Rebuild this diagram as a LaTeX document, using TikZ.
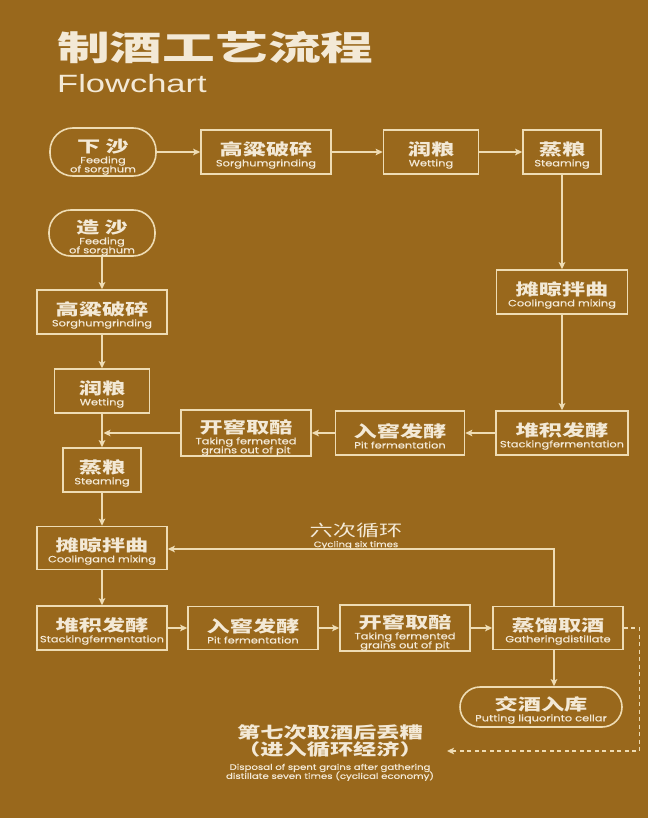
\documentclass[tikz,border=0pt]{standalone}
\usepackage{fontspec}
\usetikzlibrary{arrows.meta,calc}
\newfontfamily\cnb{Noto Sans CJK SC}[FakeStretch=1.45]
\newfontfamily\cnt{Noto Sans CJK SC}[FakeStretch=1.55]
\newfontfamily\enf{Poppins}[FakeStretch=1.27,FakeBold=0.6]
\newfontfamily\flow{Liberation Sans}[FakeStretch=1.38]
\definecolor{bg}{HTML}{99681C}
\definecolor{ln}{HTML}{EEDCB4}
\definecolor{tx}{HTML}{F3E9D6}
\newcommand\zh[1]{{\cnb\bfseries\fontsize{16}{16}\selectfont #1}}
\newcommand\en[1]{{\enf\fontsize{9}{9}\selectfont #1}}
\newcommand\bxa[2]{\rule{0pt}{20pt}\zh{#1}\\[2pt]\en{#2}}
\newcommand\bxb[3]{\rule{0pt}{23pt}\zh{#1}\\[2pt]\en{#2}\\\en{#3}}
\tikzset{
  box/.style={draw=ln, line width=1.6pt, text=tx, minimum height=44pt, inner sep=0pt,
    align=center, font={\fontsize{9}{9}\selectfont\lineskiplimit=-100pt}},
  stad/.style={box, rounded corners=22pt},
  arr/.style={draw=ln, line width=1.5pt, -{Stealth[length=7pt,width=6.5pt,inset=1.5pt]}},
  dsh/.style={arr, dash pattern=on 4pt off 3.5pt, line width=1.3pt},
  lbl/.style={text=tx, inner sep=0pt, align=center, font={\fontsize{9}{9}\selectfont\lineskiplimit=-100pt}}
}
\begin{document}
\begin{tikzpicture}[x=1pt,y=-1pt]
\fill[bg] (0,0) rectangle (648,818);
\useasboundingbox (0,0) rectangle (648,818);
% title
\node[text=tx, anchor=west, inner sep=0pt] (title) at (57,48) {\cnt\bfseries\fontsize{34}{34}\selectfont 制酒工艺流程};
\node[text=tx, anchor=west, inner sep=0pt] (flow) at (57,84) {\flow\fontsize{25}{25}\selectfont Flowchart};
% row 1
\node[stad, minimum width=106pt, minimum height=48pt, rounded corners=23pt] (xs1) at (103,152) {\bxb{下\ 沙}{Feeding}{of sorghum}};
\node[box, minimum width=130pt] (gl1) at (266,152) {\bxa{高粱破碎}{Sorghumgrinding}};
\node[box, minimum width=95pt] (rl1) at (431,152) {\bxa{润粮}{Wetting}};
\node[box, minimum width=78pt] (zl1) at (562,152) {\bxa{蒸粮}{Steaming}};
% right column
\node[box, minimum width=131pt] (tl1) at (562,292) {\bxa{摊晾拌曲}{Coolingand mixing}};
\node[box, minimum width=132pt] (dj1) at (562,433) {\bxa{堆积发酵}{Stackingfermentation}};
\node[box, minimum width=129pt] (rj1) at (400,433) {\bxa{入窖发酵}{Pit fermentation}};
\node[box, minimum width=130pt] (kj1) at (246,433) {\bxb{开窖取醅}{Taking fermented}{grains out of pit}};
% left column
\node[stad, minimum width=106pt, minimum height=46pt, rounded corners=22pt] (zs) at (102,233) {\bxb{造\ 沙}{Feeding}{of sorghum}};
\node[box, minimum width=130pt] (gl2) at (102,312) {\bxa{高粱破碎}{Sorghumgrinding}};
\node[box, minimum width=95pt] (rl2) at (102,391) {\bxa{润粮}{Wetting}};
\node[box, minimum width=78pt] (zl2) at (102,470) {\bxa{蒸粮}{Steaming}};
\node[box, minimum width=130pt, minimum height=43pt] (tl2) at (102,548) {\bxa{摊晾拌曲}{Coolingand mixing}};
\node[box, minimum width=130pt] (dj2) at (102,628) {\bxa{堆积发酵}{Stackingfermentation}};
\node[box, minimum width=130pt, minimum height=43pt] (rj2) at (253,628) {\bxa{入窖发酵}{Pit fermentation}};
\node[box, minimum width=130pt, minimum height=43pt] (kj2) at (405,628) {\bxb{开窖取醅}{Taking fermented}{grains out of pit}};
\node[box, minimum width=130pt, minimum height=43pt] (zq) at (558,628) {\bxa{蒸馏取酒}{Gatheringdistillate}};
\node[stad, minimum width=162pt, minimum height=40pt, rounded corners=20pt] (jj) at (541,707) {\bxa{交酒入库}{Putting liquorinto cellar}};
% labels
\node[lbl] (six) at (356,536) {{\cnb\fontsize{16}{16}\selectfont 六次循环}\\[2pt]{\enf\fontsize{8}{8}\selectfont Cycling six times}};
\node[lbl] (disp) at (330,753) {{\cnb\bfseries\fontsize{16}{16}\selectfont 第七次取酒后丢糟}\\[8pt]{\cnb\bfseries\fontsize{16}{16}\selectfont （进入循环经济）}\\[5pt]{\enf\fontsize{8}{8}\selectfont Disposal of spent grains after gathering}\\{\enf\fontsize{8}{8}\selectfont distillate seven times (cyclical economy)}};
\coordinate (cyc) at (554,549);
\coordinate (dtip) at (447,751);
% connectors
\draw[arr] (xs1) -- (gl1);
\draw[arr] (gl1) -- (rl1);
\draw[arr] (rl1) -- (zl1);
\draw[arr] (zl1) -- (tl1);
\draw[arr] (tl1) -- (dj1);
\draw[arr] (dj1) -- (rj1);
\draw[arr] (rj1) -- (kj1);
\draw[arr, shorten >=1.5pt] (kj1.west) -- (kj1.west -| rl2.south);
\draw[arr] (zs) -- (gl2);
\draw[arr] (gl2) -- (rl2);
\draw[arr] (rl2) -- (zl2);
\draw[arr] (zl2) -- (tl2);
\draw[arr] (tl2) -- (dj2);
\draw[arr] (dj2) -- (rj2);
\draw[arr] (rj2) -- (kj2);
\draw[arr] (kj2) -- (zq);
\draw[arr] (zq.north -| cyc) -- (cyc) -- (tl2.east |- cyc);
\draw[arr] (zq.south -| cyc) -- (cyc |- jj.north);
\draw[dsh] (zq.east) -- ++(16,0) |- (dtip);
\end{tikzpicture}
\end{document}
